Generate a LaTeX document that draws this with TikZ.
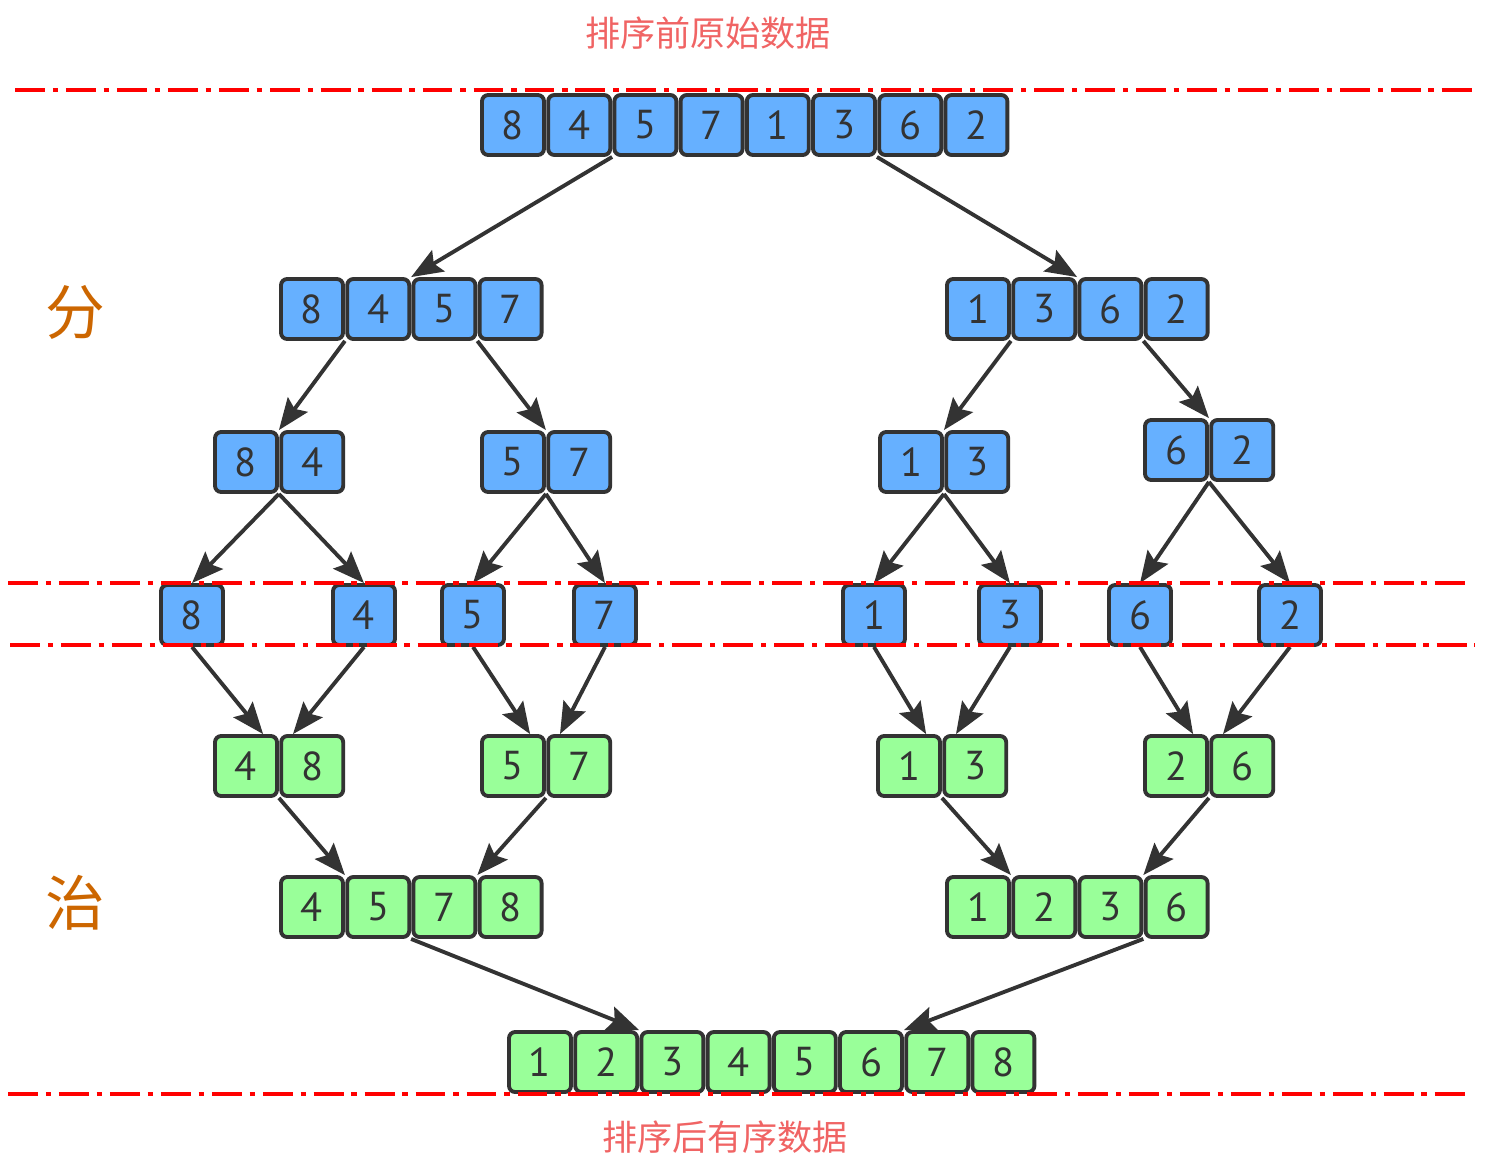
\documentclass[tikz,border=0pt]{standalone}
\usepackage{fontspec}
\setmainfont{PT Sans}
\newfontfamily\cjk{Noto Sans CJK SC}
\usetikzlibrary{arrows.meta}
\definecolor{blu}{RGB}{102,176,255}
\definecolor{grn}{RGB}{153,255,153}
\definecolor{ink}{RGB}{51,51,51}
\definecolor{titlered}{RGB}{240,100,100}
\definecolor{orng}{RGB}{204,102,0}

\begin{document}
\begin{tikzpicture}[
  x=0.02cm, y=-0.02cm,
  cell/.style={draw=ink,line width=2.2pt,rounded corners=3.5pt,minimum width=1.24cm,
               minimum height=1.2cm,inner sep=0pt,text=ink,font=\fontsize{23}{25}\selectfont},
  arr/.style={-{Stealth[length=18pt,width=14pt,inset=3pt]},line width=2.2pt,color=ink},
  cut/.style={red,line width=2.2pt,dash pattern=on 17pt off 4.5pt on 3pt off 4.5pt},
  title/.style={text=titlered,font=\cjk\fontsize{20}{22}\selectfont},
  phase/.style={text=orng,font=\cjk\fontsize{34}{36}\selectfont}
]
\useasboundingbox (0,0) rectangle (1500,1174);

% cell groups: name / left edge / centre y / fill / digits
\foreach \g/\l/\y/\col/\ds in {top/480/125/blu/{8,4,5,7,1,3,6,2},
    la/279/309/blu/{8,4,5,7}, ra/945/309/blu/{1,3,6,2},
    lb1/213/462/blu/{8,4}, lb2/480/462/blu/{5,7},
    rb1/878/462/blu/{1,3}, rb2/1143/450/blu/{6,2},
    m1/213/766/grn/{4,8}, m2/480/766/grn/{5,7},
    m3/876/766/grn/{1,3}, m4/1143/766/grn/{2,6},
    n1/279/907/grn/{4,5,7,8}, n2/945/907/grn/{1,2,3,6},
    fin/507/1062/grn/{1,2,3,4,5,6,7,8}}{
  \foreach \d [count=\i] in \ds
    \node[cell,fill=\col] (\g-\i) at ({\l+33+66.2*(\i-1)},\y) {\d};
}
% single cells
\foreach \d/\x [count=\i] in {8/192,4/364,5/473,7/605,1/874,3/1010,6/1140,2/1290}
  \node[cell,fill=blu] (s-\i) at (\x,615) {\d};

% split
\draw[arr] (top-2.south east) -- (la-2.north east);
\draw[arr] (top-6.south east) -- (ra-2.north east);
\draw[arr] (la-1.south east) -- (lb1-1.north east);
\draw[arr] (la-3.south east) -- (lb2-1.north east);
\draw[arr] (ra-1.south east) -- (rb1-1.north east);
\draw[arr] (ra-3.south east) -- (rb2-1.north east);
\draw[arr] (lb1-1.south east) -- (s-1.north);
\draw[arr] (lb1-1.south east) -- (s-2.north);
\draw[arr] (lb2-1.south east) -- (s-3.north);
\draw[arr] (lb2-1.south east) -- (s-4.north);
\draw[arr] (rb1-1.south east) -- (s-5.north);
\draw[arr] (rb1-1.south east) -- (s-6.north);
\draw[arr] (rb2-1.south east) -- (s-7.north);
\draw[arr] (rb2-1.south east) -- (s-8.north);
% merge
\draw[arr] (s-1.south) -- ([xshift=-9pt]m1-1.north east);
\draw[arr] (s-2.south) -- ([xshift=8pt]m1-1.north east);
\draw[arr] (s-3.south) -- ([xshift=-9pt]m2-1.north east);
\draw[arr] (s-4.south) -- ([xshift=8pt]m2-1.north east);
\draw[arr] (s-5.south) -- ([xshift=-9pt]m3-1.north east);
\draw[arr] (s-6.south) -- ([xshift=8pt]m3-1.north east);
\draw[arr] (s-7.south) -- ([xshift=-9pt]m4-1.north east);
\draw[arr] (s-8.south) -- ([xshift=8pt]m4-1.north east);
\draw[arr] (m1-1.south east) -- (n1-1.north east);
\draw[arr] (m2-1.south east) -- (n1-3.north east);
\draw[arr] (m3-1.south east) -- (n2-1.north east);
\draw[arr] (m4-1.south east) -- (n2-3.north east);
\draw[arr] (n1-2.south east) -- (fin-2.north east);
\draw[arr] (n2-3.south east) -- (fin-6.north east);

% cut lines
\draw[cut] (15,90) -- (1478,90);
\draw[cut] (8,583) -- (1472,583);
\draw[cut] (10,645) -- (1475,645);
\draw[cut] (8,1094) -- (1470,1094);

\node[title] (before) at (708,33) {排序前原始数据};
\node[title] (after) at (725,1137) {排序后有序数据};
\node[phase] (divide) at (75,312) {分};
\node[phase] (conquer) at (75,903) {治};
\end{tikzpicture}
\end{document}
